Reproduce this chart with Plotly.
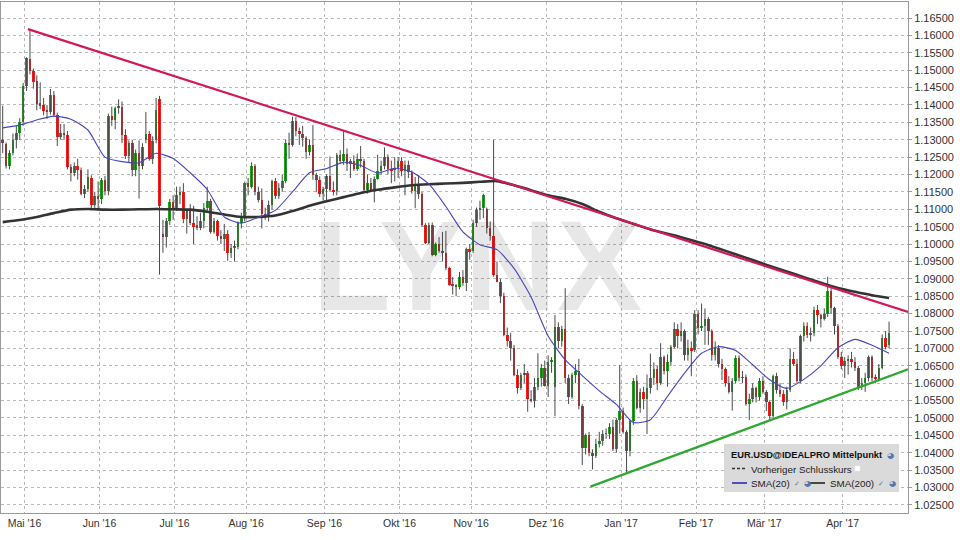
import pandas as pd
import plotly.graph_objects as go

# ---------------- data ----------------
# trading sessions shown (IDEALPRO daily bars)
dates = pd.bdate_range("2016-04-21", "2017-04-20")

opens = [
    # Apr 2016
    1.1300, 1.1288, 1.1224, 1.1262, 1.1298, 1.1318, 1.1350,
    # May 2016
    1.1455, 1.1533, 1.1497, 1.1470, 1.1405, 1.1400, 1.1384, 1.1380, 1.1428, 1.1370, 1.1308,
    1.1320, 1.1315, 1.1222, 1.1204, 1.1225, 1.1213, 1.1143, 1.1158, 1.1190, 1.1113, 1.1137,
    # Jun 2016
    1.1130, 1.1185, 1.1152, 1.1367, 1.1357, 1.1392, 1.1395, 1.1315, 1.1253, 1.1290, 1.1212,
    1.1262, 1.1225, 1.1300, 1.1316, 1.1245, 1.1300, 1.1418, 1.1030, 1.1020, 1.1065, 1.1122,
    # Jul 2016
    1.1105, 1.1140, 1.1150, 1.1072, 1.1095, 1.1060, 1.1055, 1.1046, 1.1065, 1.1105, 1.1125,
    1.1035, 1.1065, 1.1022, 1.1015, 1.1030, 1.0975, 1.0990, 1.0993, 1.1060, 1.1076,
    # Aug 2016
    1.1175, 1.1165, 1.1225, 1.1150, 1.1128, 1.1087, 1.1082, 1.1112, 1.1180, 1.1138, 1.1160,
    1.1182, 1.1290, 1.1285, 1.1355, 1.1325, 1.1317, 1.1305, 1.1265, 1.1285, 1.1200, 1.1185, 1.1145,
    # Sep 2016
    1.1157, 1.1195, 1.1155, 1.1152, 1.1255, 1.1240, 1.1260, 1.1230, 1.1240, 1.1215, 1.1245,
    1.1240, 1.1155, 1.1175, 1.1155, 1.1188, 1.1210, 1.1225, 1.1250, 1.1215, 1.1212, 1.1220,
    # Oct 2016
    1.1240, 1.1210, 1.1228, 1.1208, 1.1152, 1.1172, 1.1145, 1.1055, 1.1003, 1.1055, 1.0970,
    1.1000, 1.0980, 1.0975, 1.0930, 1.0883, 1.0880, 1.0877, 1.0905, 1.0888, 1.0985,
    # Nov 2016
    1.0980, 1.1060, 1.1098, 1.1103, 1.1100, 1.1045, 1.1022, 1.0912, 1.0892, 1.0850, 1.0740,
    1.0722, 1.0700, 1.0625, 1.0585, 1.0625, 1.0630, 1.0555, 1.0550, 1.0590, 1.0615, 1.0645,
    # Dec 2016
    1.0592, 1.0662, 1.0590, 1.0763, 1.0720, 1.0755, 1.0615, 1.0560, 1.0625, 1.0635, 1.0535,
    1.0415, 1.0450, 1.0400, 1.0390, 1.0425, 1.0435, 1.0455, 1.0455, 1.0475, 1.0412, 1.0495,
    # Jan 2017
    1.0520, 1.0460, 1.0405, 1.0490, 1.0605, 1.0530, 1.0575, 1.0555, 1.0585, 1.0615, 1.0640,
    1.0600, 1.0675, 1.0635, 1.0660, 1.0705, 1.0755, 1.0735, 1.0750, 1.0680, 1.0700, 1.0695,
    # Feb 2017
    1.0800, 1.0760, 1.0765, 1.0785, 1.0750, 1.0680, 1.0700, 1.0655, 1.0640, 1.0600, 1.0575,
    1.0605, 1.0672, 1.0615, 1.0617, 1.0540, 1.0555, 1.0585, 1.0560, 1.0605,
    # Mar 2017
    1.0575, 1.0545, 1.0505, 1.0620, 1.0580, 1.0570, 1.0545, 1.0580, 1.0670, 1.0655, 1.0605,
    1.0735, 1.0765, 1.0740, 1.0745, 1.0810, 1.0795, 1.0785, 1.0800, 1.0865, 1.0815, 1.0765, 1.0675,
    # Apr 2017
    1.0650, 1.0665, 1.0670, 1.0660, 1.0645, 1.0590, 1.0600, 1.0615, 1.0675, 1.0615, 1.0613,
    1.0643, 1.0731, 1.0709,
]

highs = [
    1.1398, 1.1292, 1.1270, 1.1318, 1.1340, 1.1362, 1.1463,
    1.1537, 1.1616, 1.1505, 1.1485, 1.1465, 1.1420, 1.1400, 1.1446, 1.1440, 1.1378, 1.1345,
    1.1345, 1.1325, 1.1230, 1.1235, 1.1245, 1.1220, 1.1170, 1.1215, 1.1198, 1.1150, 1.1180,
    1.1190, 1.1196, 1.1375, 1.1395, 1.1395, 1.1416, 1.1410, 1.1330, 1.1298, 1.1300, 1.1272,
    1.1298, 1.1290, 1.1380, 1.1325, 1.1310, 1.1420, 1.1426, 1.1070, 1.1075, 1.1130, 1.1140,
    1.1165, 1.1165, 1.1175, 1.1100, 1.1115, 1.1110, 1.1080, 1.1090, 1.1118, 1.1165, 1.1130,
    1.1075, 1.1070, 1.1040, 1.1058, 1.1040, 1.1000, 1.1010, 1.1065, 1.1090, 1.1180,
    1.1190, 1.1235, 1.1230, 1.1165, 1.1160, 1.1105, 1.1125, 1.1185, 1.1190, 1.1175, 1.1200,
    1.1300, 1.1320, 1.1366, 1.1365, 1.1335, 1.1340, 1.1310, 1.1300, 1.1342, 1.1205, 1.1195, 1.1165,
    1.1200, 1.1252, 1.1180, 1.1262, 1.1270, 1.1327, 1.1275, 1.1245, 1.1255, 1.1260, 1.1282,
    1.1245, 1.1200, 1.1190, 1.1195, 1.1257, 1.1240, 1.1278, 1.1258, 1.1240, 1.1250, 1.1250,
    1.1250, 1.1240, 1.1240, 1.1212, 1.1193, 1.1198, 1.1150, 1.1060, 1.1062, 1.1062, 1.1005,
    1.1020, 1.1035, 1.1038, 1.0935, 1.0905, 1.0885, 1.0920, 1.0925, 1.0990, 1.1000,
    1.1070, 1.1105, 1.1125, 1.1145, 1.1105, 1.1065, 1.1300, 1.0950, 1.0900, 1.0860, 1.0760,
    1.0745, 1.0710, 1.0640, 1.0630, 1.0655, 1.0635, 1.0580, 1.0615, 1.0686, 1.0655, 1.0665,
    1.0680, 1.0675, 1.0796, 1.0775, 1.0765, 1.0873, 1.0625, 1.0630, 1.0655, 1.0670, 1.0540,
    1.0455, 1.0460, 1.0410, 1.0440, 1.0460, 1.0465, 1.0470, 1.0485, 1.0495, 1.0500, 1.0652,
    1.0530, 1.0465, 1.0495, 1.0615, 1.0623, 1.0585, 1.0590, 1.0625, 1.0685, 1.0660, 1.0650,
    1.0715, 1.0680, 1.0683, 1.0710, 1.0775, 1.0770, 1.0775, 1.0755, 1.0725, 1.0720, 1.0810,
    1.0810, 1.0829, 1.0815, 1.0790, 1.0755, 1.0720, 1.0710, 1.0670, 1.0645, 1.0620, 1.0615,
    1.0680, 1.0680, 1.0635, 1.0625, 1.0570, 1.0600, 1.0590, 1.0615, 1.0620,
    1.0580, 1.0550, 1.0625, 1.0630, 1.0600, 1.0580, 1.0590, 1.0700, 1.0690, 1.0670, 1.0740,
    1.0775, 1.0775, 1.0760, 1.0820, 1.0825, 1.0800, 1.0815, 1.0906, 1.0875, 1.0820, 1.0770, 1.0690,
    1.0675, 1.0680, 1.0690, 1.0675, 1.0650, 1.0615, 1.0630, 1.0680, 1.0680, 1.0625, 1.0655,
    1.0740, 1.0750, 1.0777,
]

lows = [
    1.1262, 1.1217, 1.1215, 1.1255, 1.1275, 1.1300, 1.1340,
    1.1440, 1.1488, 1.1447, 1.1385, 1.1388, 1.1370, 1.1360, 1.1372, 1.1365, 1.1282, 1.1300,
    1.1300, 1.1215, 1.1180, 1.1195, 1.1185, 1.1140, 1.1132, 1.1150, 1.1097, 1.1100, 1.1100,
    1.1115, 1.1140, 1.1140, 1.1340, 1.1330, 1.1375, 1.1290, 1.1245, 1.1235, 1.1195, 1.1195,
    1.1131, 1.1215, 1.1290, 1.1240, 1.1230, 1.1290, 1.0912, 1.0975, 1.0990, 1.1055, 1.1070,
    1.1095, 1.1115, 1.1060, 1.1030, 1.1055, 1.1000, 1.1040, 1.1040, 1.1045, 1.1090, 1.1030,
    1.1030, 1.1010, 1.1000, 1.0980, 1.0952, 1.0960, 1.0950, 1.0985, 1.1045, 1.1065,
    1.1140, 1.1160, 1.1140, 1.1120, 1.1045, 1.1070, 1.1065, 1.1100, 1.1130, 1.1130, 1.1150,
    1.1175, 1.1245, 1.1280, 1.1310, 1.1285, 1.1280, 1.1245, 1.1255, 1.1185, 1.1150, 1.1135, 1.1125,
    1.1122, 1.1150, 1.1140, 1.1140, 1.1230, 1.1228, 1.1210, 1.1190, 1.1210, 1.1210, 1.1220,
    1.1150, 1.1145, 1.1150, 1.1120, 1.1185, 1.1200, 1.1215, 1.1200, 1.1175, 1.1180, 1.1190,
    1.1195, 1.1140, 1.1190, 1.1145, 1.1103, 1.1130, 1.1050, 1.1000, 1.1000, 1.0965, 1.0965,
    1.0975, 1.0950, 1.0925, 1.0880, 1.0855, 1.0850, 1.0870, 1.0880, 1.0865, 1.0955,
    1.0975, 1.1050, 1.1070, 1.1075, 1.1030, 1.1010, 1.0906, 1.0890, 1.0830, 1.0735, 1.0705,
    1.0665, 1.0620, 1.0570, 1.0580, 1.0600, 1.0518, 1.0545, 1.0530, 1.0580, 1.0590, 1.0590,
    1.0560, 1.0630, 1.0505, 1.0700, 1.0705, 1.0600, 1.0540, 1.0555, 1.0600, 1.0525, 1.0365,
    1.0395, 1.0390, 1.0352, 1.0385, 1.0415, 1.0420, 1.0440, 1.0440, 1.0405, 1.0400, 1.0455,
    1.0455, 1.0340, 1.0390, 1.0480, 1.0525, 1.0515, 1.0525, 1.0454, 1.0570, 1.0595, 1.0580,
    1.0595, 1.0625, 1.0590, 1.0650, 1.0700, 1.0700, 1.0720, 1.0665, 1.0665, 1.0620, 1.0690,
    1.0740, 1.0750, 1.0710, 1.0710, 1.0665, 1.0665, 1.0645, 1.0609, 1.0590, 1.0570, 1.0521,
    1.0600, 1.0605, 1.0600, 1.0535, 1.0494, 1.0545, 1.0545, 1.0550, 1.0570,
    1.0520, 1.0494, 1.0500, 1.0570, 1.0560, 1.0535, 1.0525, 1.0575, 1.0650, 1.0600, 1.0600,
    1.0720, 1.0730, 1.0720, 1.0735, 1.0770, 1.0760, 1.0780, 1.0790, 1.0800, 1.0740, 1.0670,
    1.0640, 1.0615, 1.0625, 1.0645, 1.0635, 1.0580, 1.0580, 1.0575, 1.0605, 1.0605, 1.0600,
    1.0605, 1.0640, 1.0697, 1.0700,
]

closes = [
    1.1290, 1.1224, 1.1262, 1.1298, 1.1318, 1.1352, 1.1455,
    1.1534, 1.1497, 1.1466, 1.1404, 1.1398, 1.1384, 1.1380, 1.1428, 1.1370, 1.1308, 1.1320,
    1.1315, 1.1222, 1.1204, 1.1225, 1.1213, 1.1143, 1.1158, 1.1192, 1.1113, 1.1137, 1.1130,
    1.1185, 1.1152, 1.1367, 1.1357, 1.1392, 1.1395, 1.1315, 1.1253, 1.1290, 1.1212, 1.1262,
    1.1225, 1.1280, 1.1316, 1.1245, 1.1297, 1.1385, 1.1110, 1.1020, 1.1065, 1.1122, 1.1105,
    1.1140, 1.1150, 1.1072, 1.1095, 1.1060, 1.1050, 1.1046, 1.1065, 1.1105, 1.1125, 1.1035,
    1.1065, 1.1022, 1.1015, 1.1030, 1.0975, 1.0990, 1.0993, 1.1060, 1.1076, 1.1175,
    1.1165, 1.1225, 1.1150, 1.1128, 1.1087, 1.1082, 1.1112, 1.1180, 1.1138, 1.1160, 1.1182,
    1.1290, 1.1285, 1.1355, 1.1325, 1.1317, 1.1305, 1.1265, 1.1285, 1.1200, 1.1185, 1.1145, 1.1157,
    1.1195, 1.1155, 1.1152, 1.1255, 1.1240, 1.1260, 1.1230, 1.1240, 1.1215, 1.1245, 1.1240,
    1.1155, 1.1175, 1.1155, 1.1188, 1.1210, 1.1225, 1.1250, 1.1215, 1.1212, 1.1220, 1.1240,
    1.1210, 1.1228, 1.1208, 1.1152, 1.1172, 1.1145, 1.1055, 1.1003, 1.1055, 1.0970, 1.1000,
    1.0980, 1.0975, 1.0930, 1.0883, 1.0880, 1.0877, 1.0905, 1.0888, 1.0985, 1.0980,
    1.1060, 1.1098, 1.1103, 1.1140, 1.1045, 1.1022, 1.0912, 1.0892, 1.0850, 1.0740, 1.0722,
    1.0700, 1.0625, 1.0585, 1.0625, 1.0630, 1.0555, 1.0550, 1.0590, 1.0615, 1.0645, 1.0592,
    1.0662, 1.0665, 1.0763, 1.0720, 1.0755, 1.0615, 1.0560, 1.0625, 1.0635, 1.0535, 1.0415,
    1.0450, 1.0400, 1.0390, 1.0425, 1.0435, 1.0455, 1.0455, 1.0475, 1.0412, 1.0495, 1.0520,
    1.0460, 1.0405, 1.0490, 1.0605, 1.0530, 1.0575, 1.0555, 1.0585, 1.0615, 1.0640, 1.0600,
    1.0675, 1.0635, 1.0660, 1.0705, 1.0755, 1.0735, 1.0750, 1.0680, 1.0700, 1.0695, 1.0800,
    1.0760, 1.0765, 1.0785, 1.0750, 1.0680, 1.0700, 1.0655, 1.0640, 1.0600, 1.0575, 1.0605,
    1.0672, 1.0615, 1.0617, 1.0540, 1.0555, 1.0585, 1.0560, 1.0605, 1.0575,
    1.0545, 1.0505, 1.0620, 1.0580, 1.0570, 1.0545, 1.0580, 1.0670, 1.0655, 1.0605, 1.0735,
    1.0765, 1.0740, 1.0745, 1.0810, 1.0795, 1.0785, 1.0800, 1.0865, 1.0815, 1.0765, 1.0675, 1.0650,
    1.0665, 1.0670, 1.0660, 1.0645, 1.0590, 1.0600, 1.0615, 1.0675, 1.0615, 1.0613, 1.0645,
    1.0731, 1.0705, 1.0743,
]

# moving averages read every 5th session
sma20 = [
    1.1334, 1.1342, 1.1357, 1.1368, 1.1359, 1.1328, 1.1250, 1.1237, 1.1234, 1.1261,
    1.1246, 1.1205, 1.1157, 1.1078, 1.1060, 1.1077, 1.1097, 1.1150, 1.1205, 1.1217,
    1.1235, 1.1226, 1.1204, 1.1218, 1.1207, 1.1173, 1.1108, 1.1035, 1.0998, 1.0984,
    1.0930, 1.0848, 1.0736, 1.0667, 1.0622, 1.0578, 1.0539, 1.0487, 1.0495, 1.0562,
    1.0629, 1.0686, 1.0705, 1.0694, 1.0653, 1.0610, 1.0585, 1.0611, 1.0650, 1.0702,
    1.0726, 1.0709, 1.0686,
]
sma200 = [
    1.1063, 1.1069, 1.1078, 1.1089, 1.1099, 1.1101, 1.1099, 1.1099, 1.1100, 1.1101,
    1.1100, 1.1099, 1.1093, 1.1085, 1.1078, 1.1078, 1.1082, 1.1095, 1.1110, 1.1123,
    1.1135, 1.1147, 1.1156, 1.1163, 1.1169, 1.1172, 1.1174, 1.1176, 1.1179, 1.1181,
    1.1169, 1.1155, 1.1140, 1.1130, 1.1115, 1.1093, 1.1074, 1.1058, 1.1042, 1.1030,
    1.1017, 1.1003, 1.0987, 1.0971, 1.0954, 1.0937, 1.0921, 1.0905, 1.0889, 1.0874,
    1.0863, 1.0853, 1.0845,
]
sma_step = 5

# trend lines: two anchor points each (date, price) and the date the line starts
resistance_pts = [("2016-05-03", 1.1616), ("2017-03-27", 1.0879)]
resistance_start = "2016-05-03"
support_pts = [("2017-01-03", 1.0341), ("2017-03-02", 1.0493)]
support_start = "2016-12-20"

month_starts = ["2016-05-02", "2016-06-01", "2016-07-01", "2016-08-01", "2016-09-01",
                "2016-10-03", "2016-11-01", "2016-12-01", "2017-01-02", "2017-02-01",
                "2017-03-01", "2017-04-03"]
month_labels = ["Mai '16", "Jun '16", "Jul '16", "Aug '16", "Sep '16", "Okt '16",
                "Nov '16", "Dez '16", "Jan '17", "Feb '17", "Mär '17", "Apr '17"]

price_ticks_from, price_ticks_to, price_tick_step = 1.025, 1.165, 0.005

# ---------------- layout constants ----------------
W, H = 960, 540
ML, MR, MT, MB = 1, 52, 2, 27
X_MIN, X_MAX = -0.5, 265.56
Y_MIN, Y_MAX = 1.02268, 1.16960

GREEN = "#1f9f1f"
RED = "#f01c1c"
FONT = "Liberation Sans, Arial, sans-serif"

n = len(dates)
idx = list(range(n))
pos = {d.strftime("%Y-%m-%d"): i for i, d in enumerate(dates)}

fig = go.Figure()

# watermark
fig.add_trace(go.Scatter(
    x=[139.2], y=[1.0903], mode="text", text=["<b>LYNX</b>"],
    textfont=dict(family="Liberation Sans, Arial", size=128, weight="bold",
                  color="rgba(0,0,0,0.095)"),
    textposition="middle center", hoverinfo="skip", showlegend=False))

# wicks
wx, wy = [], []
for i in idx:
    wx += [i, i, None]
    wy += [lows[i], highs[i], None]
fig.add_trace(go.Scatter(x=wx, y=wy, mode="lines",
                         line=dict(color="#4a4a4a", width=1),
                         hoverinfo="skip", showlegend=False))

# bodies
base = [min(o, c) for o, c in zip(opens, closes)]
height = [max(abs(c - o), 0.00008) for o, c in zip(opens, closes)]
colors = [GREEN if c >= o else RED for o, c in zip(opens, closes)]
fig.add_trace(go.Bar(x=idx, y=height, base=base, width=0.74,
                     marker=dict(color=colors, line=dict(width=0)),
                     hoverinfo="skip", showlegend=False))

# moving averages
sx = list(range(0, n, sma_step))
fig.add_trace(go.Scatter(x=sx, y=sma200, mode="lines",
                         line=dict(color="#333333", width=2.6, shape="spline", smoothing=0.6),
                         hoverinfo="skip", showlegend=False))
fig.add_trace(go.Scatter(x=sx, y=sma20, mode="lines",
                         line=dict(color="#4646c0", width=1.1, shape="spline", smoothing=0.6),
                         hoverinfo="skip", showlegend=False))


def trend(pts, start, start_off):
    (d1, p1), (d2, p2) = pts
    x1, x2 = pos[d1], pos[d2]
    slope = (p2 - p1) / (x2 - x1)
    xs = pos[start] + start_off
    return [xs, X_MAX], [p1 + slope * (xs - x1), p1 + slope * (X_MAX - x1)]


rx, ry = trend(resistance_pts, resistance_start, -0.6)
fig.add_trace(go.Scatter(x=rx, y=ry, mode="lines", line=dict(color="#d21859", width=2.2),
                         hoverinfo="skip", showlegend=False))
gx, gy = trend(support_pts, support_start, -0.6)
fig.add_trace(go.Scatter(x=gx, y=gy, mode="lines", line=dict(color="#2ea82e", width=2.2),
                         hoverinfo="skip", showlegend=False))

# axes
tickvals_x = [pos[d] - 0.6 for d in month_starts]
n_ticks = int(round((price_ticks_to - price_ticks_from) / price_tick_step)) + 1
tickvals_y = [round(price_ticks_from + k * price_tick_step, 5) for k in range(n_ticks)]

fig.update_xaxes(range=[X_MIN, X_MAX], tickvals=tickvals_x, ticktext=month_labels,
                 showgrid=True, gridcolor="#b9b9b9", griddash="dot", gridwidth=1,
                 showline=True, linecolor="#9a9a9a", linewidth=1, mirror=True,
                 ticks="", tickfont=dict(family=FONT, size=10.5, color="#333"),
                 zeroline=False, fixedrange=True)
fig.update_yaxes(range=[Y_MIN, Y_MAX], side="right", tickvals=tickvals_y,
                 ticktext=[f"{v:.5f}" for v in tickvals_y],
                 showgrid=True, gridcolor="#b9b9b9", griddash="dot", gridwidth=1,
                 showline=True, linecolor="#9a9a9a", linewidth=1, mirror=True,
                 ticks="outside", ticklen=3, tickcolor="#9a9a9a",
                 tickfont=dict(family=FONT, size=11, color="#333"),
                 zeroline=False, fixedrange=True)

# legend box (pixel helpers)
PW, PH = W - ML - MR, H - MT - MB


def px(x):
    return (x - ML) / PW


def py(y):
    return (H - MB - y) / PH


shapes = [
    dict(type="rect", xref="paper", yref="paper", x0=px(724), x1=px(899), y0=py(492), y1=py(444),
         fillcolor="#dadada", line=dict(width=0), layer="above"),
    dict(type="line", xref="paper", yref="paper", x0=px(732), x1=px(747), y0=py(468.5), y1=py(468.5),
         line=dict(color="#333", width=1.5, dash="3px,2px")),
    dict(type="rect", xref="paper", yref="paper", x0=px(855), x1=px(860), y0=py(471), y1=py(466),
         fillcolor="#ffffff", line=dict(color="#eeeeee", width=0.5)),
    dict(type="line", xref="paper", yref="paper", x0=px(732), x1=px(747), y0=py(483), y1=py(483),
         line=dict(color="#2d2db4", width=1.6)),
    dict(type="line", xref="paper", yref="paper", x0=px(809), x1=px(825), y0=py(483), y1=py(483),
         line=dict(color="#222", width=1.6)),
]

ann = []


def txt(x, y, s, size=10, bold=False, color="#222", family=FONT):
    ann.append(dict(xref="paper", yref="paper", x=px(x), y=py(y), text=f"<b>{s}</b>" if bold else s,
                    showarrow=False, xanchor="left", yanchor="middle",
                    font=dict(family=family, size=size, color=color)))


txt(729, 455, "EUR.USD@IDEALPRO Mittelpunkt", size=9.3, bold=True, color="#111")
txt(749, 469, "Vorheriger Schlusskurs", size=9.8, color="#222")
txt(749, 483, "SMA(20)", size=9.8, color="#222")
txt(828, 483, "SMA(200)", size=9.8, color="#222")
ICON = "#5577aa"
txt(885, 455, "◕", size=8, color=ICON, family="DejaVu Sans")
txt(792, 483.5, "✓", size=7, color=ICON, family="DejaVu Sans")
txt(802, 483, "◕", size=8, color=ICON, family="DejaVu Sans")
txt(876, 483.5, "✓", size=7, color=ICON, family="DejaVu Sans")
txt(887, 483, "◕", size=8, color=ICON, family="DejaVu Sans")

fig.update_layout(
    width=W, height=H, autosize=False,
    margin=dict(l=ML, r=MR, t=MT, b=MB),
    paper_bgcolor="white", plot_bgcolor="white",
    barmode="overlay", bargap=0, showlegend=False,
    hovermode=False, shapes=shapes, annotations=ann,
)

fig.write_html("out.html", config={"displayModeBar": False},
               post_script="document.body.style.margin='0px';document.body.style.overflow='hidden';")
